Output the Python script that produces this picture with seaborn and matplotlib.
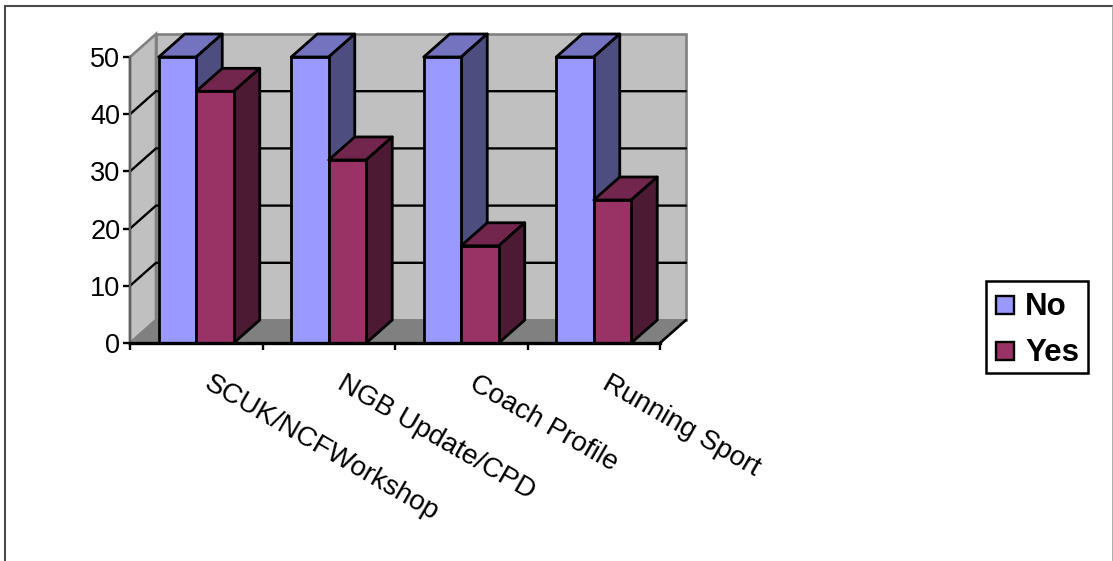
import matplotlib
matplotlib.use("Agg")
import matplotlib.pyplot as plt
from matplotlib.lines import Line2D
from matplotlib.patches import Polygon, Rectangle
from matplotlib.transforms import ScaledTranslation
import pandas as pd
import seaborn as sns

categories = ["SCUK/NCFWorkshop", "NGB Update/CPD", "Coach Profile", "Running Sport"]
no_values = [50, 50, 50, 50]
yes_values = [44, 32, 17, 25]
y_ticks = [0, 10, 20, 30, 40, 50]

front_colors = {"No": "#9999FF", "Yes": "#993366"}
top_colors = {"No": "#7373BF", "Yes": "#73264D"}
side_colors = {"No": "#4D4D80", "Yes": "#4D1A33"}

sns.set_theme(style="white")
plt.rcParams["font.family"] = ["Liberation Sans", "DejaVu Sans"]

W, H = 1113, 561
fig = plt.figure(figsize=(W / 100, H / 100), dpi=100)
ax = fig.add_axes([130 / W, (H - 343) / H, 530 / W, 286 / H])

table = pd.DataFrame({
    "category": categories * 2,
    "answer": ["No"] * len(categories) + ["Yes"] * len(categories),
    "count": no_values + yes_values,
})
sns.barplot(data=table, x="category", y="count", hue="answer", hue_order=["No", "Yes"],
            palette=front_colors, width=0.566, gap=0, saturation=1,
            edgecolor="black", linewidth=2.0, ax=ax, legend=False)

x0, x1 = -0.5, len(categories) - 0.5
y0, y1 = y_ticks[0], y_ticks[-1]
ax.set_xlim(x0, x1)
ax.set_ylim(y0, y1)

# Oblique offset of the chart's back plane, in data units
depth_x = 26 / 132.5
depth_y = 23 / 5.72

wall_edge = "#808080"
ax.add_patch(Polygon([(x0 + depth_x, y0 + depth_y), (x1 + depth_x, y0 + depth_y),
                      (x1 + depth_x, y1 + depth_y), (x0 + depth_x, y1 + depth_y)],
                     fc="#C0C0C0", ec=wall_edge, lw=1.9, zorder=0.5, clip_on=False))
ax.add_patch(Polygon([(x0, y0), (x0 + depth_x, y0 + depth_y),
                      (x0 + depth_x, y1 + depth_y), (x0, y1)],
                     fc="#C0C0C0", ec=wall_edge, lw=1.9, zorder=0.5, clip_on=False))
ax.add_patch(Polygon([(x0, y0), (x1, y0), (x1 + depth_x, y0 + depth_y), (x0 + depth_x, y0 + depth_y)],
                     fc="#808080", ec=wall_edge, lw=1.2, zorder=0.6, clip_on=False))
ax.plot([x1, x1 + depth_x], [y0, y0 + depth_y], color="black", lw=1.9, zorder=0.7, clip_on=False)

# Gridlines run along the left wall and across the back wall
for tick in y_ticks[1:-1]:
    ax.plot([x0, x0 + depth_x, x1 + depth_x],
            [tick, tick + depth_y, tick + depth_y],
            color="black", lw=1.7, zorder=1, clip_on=False, solid_joinstyle="miter")

# Extrude each bar backwards; later bars overlap earlier ones
for s, (answer, container) in enumerate(zip(["No", "Yes"], ax.containers)):
    for c, bar in enumerate(container):
        left, width, height = bar.get_x(), bar.get_width(), bar.get_height()
        right = left + width
        order = 3 + 2 * c + s
        bar.set_zorder(order + 0.2)
        bar.set_clip_on(False)
        ax.add_patch(Polygon([(left, height), (right, height),
                              (right + depth_x, height + depth_y), (left + depth_x, height + depth_y)],
                             fc=top_colors[answer], ec="black", lw=2.0, zorder=order,
                             clip_on=False, joinstyle="round"))
        ax.add_patch(Polygon([(right, 0), (right + depth_x, depth_y),
                              (right + depth_x, height + depth_y), (right, height)],
                             fc=side_colors[answer], ec="black", lw=2.0, zorder=order,
                             clip_on=False, joinstyle="round"))

# Axes: tick marks on category boundaries, labels slanted from category centres
ax.set_xlabel("")
ax.set_ylabel("")
ax.set_yticks(y_ticks)
boundaries = [x0 + i for i in range(len(categories) + 1)]
ax.set_xticks(boundaries)
ax.set_xticklabels([""] * len(boundaries))
ax.set_xticks(range(len(categories)), categories, minor=True)
ax.tick_params(axis="y", which="major", left=True, length=5, width=1.7, color="black",
               labelsize=19.5, labelcolor="black", pad=2)
ax.tick_params(axis="x", which="major", bottom=True, length=5, width=1.7, color="black")
ax.tick_params(axis="x", which="minor", bottom=False, length=0, labelsize=20,
               labelcolor="black", pad=28)
label_shift = ScaledTranslation(10.5 / 100, 0, fig.dpi_scale_trans)
for label in ax.get_xticklabels(minor=True):
    label.set_rotation(-30)
    label.set_rotation_mode("anchor")
    label.set_ha("left")
    label.set_va("center")
    label.set_transform(label.get_transform() + label_shift)

for side in ("top", "right"):
    ax.spines[side].set_visible(False)
ax.spines["left"].set_color("#606060")
ax.spines["left"].set_linewidth(1.7)
ax.spines["left"].set_zorder(2)
ax.spines["bottom"].set_color("black")
ax.spines["bottom"].set_linewidth(2.4)
ax.spines["bottom"].set_zorder(20)

# Legend box and keys
lx0, lx1, ly0, ly1 = 986 / W, 1088 / W, 1 - 373 / H, 1 - 281 / H
fig.add_artist(Rectangle((lx0, ly0), lx1 - lx0, ly1 - ly0, transform=fig.transFigure,
                         fc="white", ec="black", lw=1.8))
for answer, key_y in zip(["No", "Yes"], [305, 351]):
    fig.add_artist(Rectangle((996 / W, 1 - (key_y + 9) / H), 18 / W, 18 / H,
                             transform=fig.transFigure, fc=front_colors[answer],
                             ec="black", lw=1.7))
    fig.text(1025 / W, 1 - (key_y + 2) / H, answer, fontsize=22.5, fontweight="bold",
             color="black", ha="left", va="center")

# Outer chart frame: dark left and top edges, lighter right edge
frame_top = 1 - 5.5 / H
fig.add_artist(Line2D([5 / W, 5 / W, 1112.5 / W], [0, frame_top, frame_top],
                      transform=fig.transFigure, color="#4A4A4A", lw=1.5,
                      solid_joinstyle="miter"))
fig.add_artist(Line2D([1112.5 / W, 1112.5 / W], [0, frame_top],
                      transform=fig.transFigure, color="#999999", lw=1.1))

fig.savefig("out.png", dpi=100, facecolor="white")
